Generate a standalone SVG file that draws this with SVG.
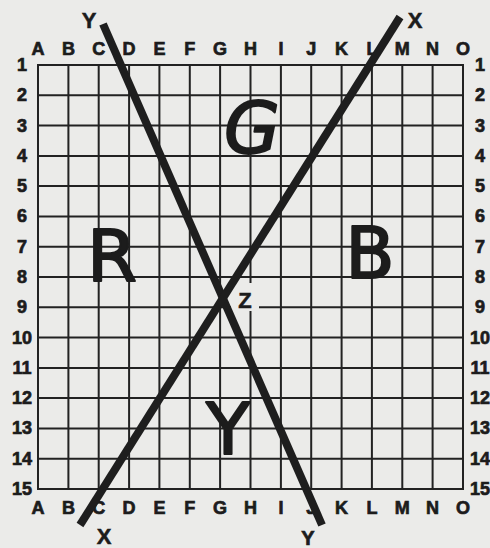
<svg xmlns="http://www.w3.org/2000/svg" width="490" height="548" viewBox="0 0 490 548">
<style>
.lbl{font-family:"Liberation Sans",Arial,sans-serif;font-weight:bold;font-size:18px;fill:#1c1c1c;stroke:#1c1c1c;stroke-width:0.7;text-anchor:middle}
.end{font-size:22px;stroke-width:0.5}
.hand{font-family:"DejaVu Sans","Liberation Sans",sans-serif;font-size:72px;fill:#1c1c1c;stroke:#1c1c1c;stroke-width:2;stroke-linejoin:round;text-anchor:middle}
.grid{stroke:#222;stroke-width:2;fill:none}
.big{stroke:#1e1e1e;stroke-width:8;stroke-linecap:butt}
</style>
<rect width="490" height="548" fill="#ebebe9"/>
<g id="grid">
<rect class="grid" x="38" y="65" width="425" height="424"/>
<path class="grid" d="M68.4 65V489M98.7 65V489M129.1 65V489M159.4 65V489M189.8 65V489M220.1 65V489M250.5 65V489M280.9 65V489M311.2 65V489M341.6 65V489M371.9 65V489M402.3 65V489M432.6 65V489M38 95.3H463M38 125.6H463M38 155.9H463M38 186.1H463M38 216.4H463M38 246.7H463M38 277H463M38 307.3H463M38 337.6H463M38 367.9H463M38 398.1H463M38 428.4H463M38 458.7H463"/>
<rect x="231" y="283" width="28" height="28" fill="#ebebe9"/>
</g>
<g id="column-labels-top">
<text class="lbl" x="38" y="55">A</text><text class="lbl" x="68.4" y="55">B</text><text class="lbl" x="98.7" y="55">C</text><text class="lbl" x="129.1" y="55">D</text><text class="lbl" x="159.4" y="55">E</text><text class="lbl" x="189.8" y="55">F</text><text class="lbl" x="220.1" y="55">G</text><text class="lbl" x="250.5" y="55">H</text><text class="lbl" x="280.9" y="55">I</text><text class="lbl" x="311.2" y="55">J</text><text class="lbl" x="341.6" y="55">K</text><text class="lbl" x="371.9" y="55">L</text><text class="lbl" x="402.3" y="55">M</text><text class="lbl" x="432.6" y="55">N</text><text class="lbl" x="463" y="55">O</text>
</g>
<g id="column-labels-bottom">
<text class="lbl" x="38" y="514">A</text><text class="lbl" x="68.4" y="514">B</text><text class="lbl" x="98.7" y="514">C</text><text class="lbl" x="129.1" y="514">D</text><text class="lbl" x="159.4" y="514">E</text><text class="lbl" x="189.8" y="514">F</text><text class="lbl" x="220.1" y="514">G</text><text class="lbl" x="250.5" y="514">H</text><text class="lbl" x="280.9" y="514">I</text><text class="lbl" x="311.2" y="514">J</text><text class="lbl" x="341.6" y="514">K</text><text class="lbl" x="371.9" y="514">L</text><text class="lbl" x="402.3" y="514">M</text><text class="lbl" x="432.6" y="514">N</text><text class="lbl" x="463" y="514">O</text>
</g>
<g id="row-labels-left">
<text class="lbl" x="22" y="71">1</text><text class="lbl" x="22" y="101.3">2</text><text class="lbl" x="22" y="131.6">3</text><text class="lbl" x="22" y="161.9">4</text><text class="lbl" x="22" y="192.1">5</text><text class="lbl" x="22" y="222.4">6</text><text class="lbl" x="22" y="252.7">7</text><text class="lbl" x="22" y="283">8</text><text class="lbl" x="22" y="313.3">9</text><text class="lbl" x="22" y="343.6">10</text><text class="lbl" x="22" y="373.9">11</text><text class="lbl" x="22" y="404.1">12</text><text class="lbl" x="22" y="434.4">13</text><text class="lbl" x="22" y="464.7">14</text><text class="lbl" x="22" y="495">15</text>
</g>
<g id="row-labels-right">
<text class="lbl" x="480" y="71">1</text><text class="lbl" x="480" y="101.3">2</text><text class="lbl" x="480" y="131.6">3</text><text class="lbl" x="480" y="161.9">4</text><text class="lbl" x="480" y="192.1">5</text><text class="lbl" x="480" y="222.4">6</text><text class="lbl" x="480" y="252.7">7</text><text class="lbl" x="480" y="283">8</text><text class="lbl" x="480" y="313.3">9</text><text class="lbl" x="480" y="343.6">10</text><text class="lbl" x="480" y="373.9">11</text><text class="lbl" x="480" y="404.1">12</text><text class="lbl" x="480" y="434.4">13</text><text class="lbl" x="480" y="464.7">14</text><text class="lbl" x="480" y="495">15</text>
</g>
<g id="connectors">
<line class="big" x1="103" y1="24" x2="322" y2="525"/>
<line class="big" x1="80" y1="525" x2="400" y2="17"/>
</g>
<g id="line-labels">
<text class="lbl end" x="89" y="28">Y</text>
<text class="lbl end" x="415" y="28">X</text>
<text class="lbl end" x="104" y="544">X</text>
<text class="lbl" x="308" y="545" style="font-size:20px">Y</text>
<text class="lbl end" x="245" y="308">Z</text>
</g>
<g id="regions">
<text class="hand" x="252" y="153" style="font-style:italic">G</text>
<text class="hand" x="112" y="281">R</text>
<text class="hand" x="370" y="278">B</text>
<text class="hand" x="228" y="454">Y</text>
</g>
</svg>
